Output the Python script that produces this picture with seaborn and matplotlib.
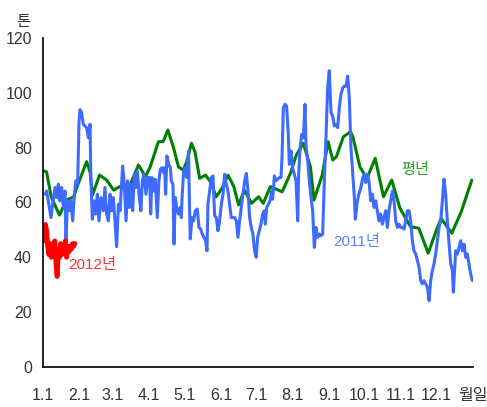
import pandas as pd
import seaborn as sns
import matplotlib.pyplot as plt

# 일별 물량 (톤), x축은 1월 1일부터 센 날짜
normal_days = [1, 3, 7, 14, 20, 26, 29, 37, 40, 42, 48, 54, 60, 65, 74, 81, 87, 91,
               98, 102, 106, 111, 115, 119, 122, 126, 129, 133, 138, 142, 147, 152,
               157, 162, 166, 171, 177, 183, 187, 193, 203, 210, 215, 221, 227, 230,
               237, 242, 246, 249, 255, 261, 263, 269, 275, 282, 289, 296, 303, 312,
               319, 327, 334, 338, 347, 355, 364]
normal_tons = [71.5, 71.2, 62.0, 55.4, 61.0, 62.0, 65.8, 74.9, 71.0, 62.7, 70.0, 68.2,
               64.5, 65.8, 66.4, 73.7, 69.4, 73.0, 82.2, 82.2, 86.4, 79.7, 73.0, 71.8,
               74.9, 81.6, 78.5, 68.8, 70.0, 67.6, 62.1, 65.2, 70.0, 65.8, 59.1, 64.5,
               59.7, 62.1, 59.7, 65.8, 63.9, 70.6, 77.3, 81.6, 73.0, 60.9, 70.0, 82.2,
               75.5, 76.7, 84.0, 85.8, 84.0, 73.0, 68.8, 76.1, 62.1, 68.2, 57.9, 51.2,
               50.6, 41.5, 50.0, 54.2, 48.8, 56.6, 68.2]

days_2011 = [2.0, 3.1, 5.4, 6.8, 8.2, 10.2, 11.6, 13.0, 14.4, 15.8, 17.3, 18.7, 19.5,
             20.7, 22.4, 23.5, 25.2, 26.6, 28.0, 29.4, 30.6, 31.4, 32.8, 34.2, 37.1,
             38.5, 39.9, 40.7, 41.9, 43.3, 44.7, 46.1, 47.5, 49.2, 51.2, 52.6, 54.0,
             55.5, 56.9, 58.3, 59.7, 61.1, 62.5, 64.0, 65.4, 67.6, 68.8, 70.5, 71.9,
             73.3, 74.7, 76.1, 77.6, 79.0, 80.1, 81.5, 83.1, 84.3, 85.7, 87.4, 88.9,
             90.5, 91.4, 92.5, 93.9, 95.3, 97.0, 98.4, 99.6, 101.0, 102.4, 103.2,
             104.1, 105.2, 106.6, 108.1, 108.9, 110.3, 111.2, 112.3, 113.7, 115.1,
             116.5, 117.4, 118.2, 119.4, 120.8, 122.2, 123.6, 124.2, 125.0, 126.5,
             127.9, 129.3, 131.0, 132.4, 133.8, 135.2, 136.6, 138.0, 139.2, 140.0,
             141.4, 142.9, 144.3, 145.7, 147.1, 148.5, 149.9, 151.4, 152.8, 154.2,
             155.6, 157.0, 158.4, 159.8, 161.3, 162.7, 164.1, 165.5, 166.9, 168.3,
             169.7, 171.2, 172.6, 174.0, 175.4, 176.8, 178.2, 179.6, 181.0, 182.2,
             183.6, 185.0, 186.5, 187.9, 188.7, 189.9, 191.3, 192.7, 194.1, 194.9,
             196.4, 197.8, 199.2, 200.6, 202.0, 202.9, 204.0, 205.4, 206.8, 208.2,
             209.1, 210.5, 211.9, 213.3, 214.8, 216.2, 217.0, 218.2, 219.6, 221.0,
             222.4, 223.2, 224.7, 226.1, 227.5, 228.9, 230.3, 231.7, 233.1, 234.6,
             236.0, 237.4, 238.8, 240.2, 241.6, 243.0, 244.5, 245.9, 247.3, 248.7,
             250.1, 251.5, 252.9, 254.4, 255.8, 257.2, 258.6, 260.0, 261.4, 262.9,
             264.3, 265.1, 266.5, 268.0, 269.9, 271.4, 272.8, 273.9, 275.3, 276.7,
             278.2, 279.6, 281.0, 282.4, 283.8, 285.2, 286.6, 288.1, 289.5, 290.9,
             292.3, 293.7, 295.1, 296.6, 298.0, 299.4, 300.8, 302.2, 303.6, 305.0,
             306.5, 307.9, 309.3, 310.7, 312.1, 313.5, 314.9, 316.4, 317.8, 319.2,
             320.6, 322.0, 323.4, 324.8, 326.3, 327.7, 329.1, 330.5, 331.9, 333.3,
             334.8, 336.2, 337.6, 339.0, 340.4, 341.8, 343.2, 344.7, 346.1, 347.5,
             348.3, 349.5, 350.3, 351.7, 353.1, 354.6, 356.0, 357.4, 358.8, 360.2,
             361.6, 363.0, 364.5]
tons_2011 = [63.0, 64.2, 58.2, 54.5, 59.4, 65.5, 61.8, 66.7, 60.6, 65.5, 58.2, 64.2, 44.8,
             60.6, 57.0, 60.6, 53.3, 63.0, 67.9, 66.7, 89.7, 93.9, 92.7, 88.5, 87.3,
             83.6, 88.5, 67.9, 53.9, 60.6, 55.8, 63.0, 53.3, 61.8, 57.0, 65.5, 55.8,
             53.3, 63.0, 57.0, 61.8, 53.3, 43.9, 59.4, 57.0, 73.3, 67.9, 53.3, 67.9,
             58.2, 66.7, 57.0, 70.3, 65.5, 71.5, 63.0, 57.0, 67.9, 70.3, 63.0, 69.1,
             69.1, 55.8, 69.1, 64.2, 68.5, 54.5, 67.9, 72.1, 72.7, 70.9, 72.7,
             63.0, 77.0, 73.9, 72.7, 67.9, 66.7, 44.8, 61.8, 57.6, 55.8,
             58.2, 54.5, 63.0, 71.5, 72.7, 69.1, 78.8, 61.8, 46.7, 54.5,
             53.3, 57.0, 57.6, 50.9, 50.3, 48.5, 47.3, 46.1, 42.4, 59.4,
             64.2, 69.1, 69.7, 55.2, 54.5, 49.7, 53.3, 59.4, 63.0, 70.3,
             66.7, 64.2, 59.4, 54.5, 54.5, 54.5, 53.3, 47.3, 53.3, 58.2,
             63.0, 67.9, 70.6, 64.2, 54.5, 50.9, 48.5, 42.4, 40.0, 47.3,
             49.7, 52.1, 55.8, 57.0, 52.1, 58.2, 59.4, 60.6, 64.2, 61.2,
             69.7, 67.9, 68.5, 69.1, 69.1, 76.4, 94.5, 95.8, 95.2, 84.8,
             73.9, 78.8, 72.7, 70.3, 67.9, 53.3, 70.3, 80.0, 84.8, 83.6,
             95.8, 81.2, 75.2, 67.9, 61.8, 57.0, 43.6, 50.9, 47.3, 48.5,
             47.9, 48.5, 67.9, 83.6, 101.8, 108.1, 92.7, 91.5, 87.9, 88.5,
             87.3, 94.5, 99.4, 101.8, 102.4, 102.4, 106.1, 98.2, 80.0, 70.3,
             61.8, 53.9, 59.4, 63.0, 65.5, 69.1, 70.3, 67.3, 70.3, 67.9,
             60.6, 63.0, 58.2, 60.6, 57.0, 53.3, 55.8, 52.1, 54.5, 57.0,
             50.9, 57.0, 60.6, 64.2, 60.6, 53.3, 50.9, 52.1, 50.9, 50.9,
             50.3, 53.3, 57.0, 57.0, 53.3, 46.1, 42.4, 41.2, 38.8, 36.4,
             31.5, 30.3, 31.5, 30.3, 29.1, 24.2, 31.5, 35.2, 37.6, 41.2,
             46.1, 50.9, 53.3, 60.6, 68.5, 63.0, 53.3, 44.8, 37.6, 35.2,
             27.3, 36.4, 42.4, 41.2, 43.6, 46.1, 42.4, 44.8, 40.0, 41.2,
             37.6, 33.9, 31.5]

days_2012 = list(range(1, 28))
tons_2012 = [46, 52, 50, 44, 41, 45, 40, 44, 41, 46, 38, 33, 43, 40, 45, 41, 44,
             42, 46, 40, 44, 42, 44, 43, 45, 44, 45]

month_ticks = [0, 31, 59, 90, 120, 151, 181, 212, 243, 273, 304, 334, 365]
month_labels = ["1.1", "2.1", "3.1", "4.1", "5.1", "6.1", "7.1", "8.1", "9.1",
                "10.1", "11.1", "12.1", "월일"]
y_ticks = [0, 20, 40, 60, 80, 100, 120]

sns.set_style("white")
plt.rcParams['font.family'] = ['Liberation Sans', 'Noto Sans CJK KR', 'DejaVu Sans']

fig = plt.figure(figsize=(4.87, 4.07), dpi=100)
ax = fig.add_axes([43 / 487, 40 / 407, 430 / 487, 329 / 407])

sns.lineplot(x=normal_days, y=normal_tons, color="#008000", lw=2.2,
             estimator=None, sort=False, ax=ax)
sns.lineplot(x=days_2011, y=tons_2011, color="#3d6bff", lw=2.2,
             estimator=None, sort=False, ax=ax)
sns.lineplot(x=days_2012, y=tons_2012, color="#ff0000", lw=3.5,
             estimator=None, sort=False, ax=ax)

ax.text(316, 72, "평년", color="#2e9b2e", fontsize=11, ha="center", va="center")
ax.text(266, 45.6, "2011년", color="#5a82ff", fontsize=11, ha="center", va="center")
ax.text(42, 37.2, "2012년", color="#ff3030", fontsize=11, ha="center", va="center")
fig.text(23 / 487, 1 - 22 / 407, "톤", fontsize=11, color="#333333",
         ha="center", va="center")

ax.set(xlim=(0, 365), ylim=(0, 120), xlabel="", ylabel="")
ax.set_xticks(month_ticks)
ax.set_xticklabels(month_labels)
ax.set_yticks(y_ticks)
ax.tick_params(axis="both", direction="in", length=5, width=1.2,
               labelsize=11.5, labelcolor="#333333", color="black")
ax.tick_params(axis="x", pad=15)
ax.tick_params(axis="y", pad=8)

sns.despine(ax=ax)
for side in ["left", "bottom"]:
    ax.spines[side].set_color("black")
    ax.spines[side].set_linewidth(1.2)

fig.savefig("out.png", dpi=100)
